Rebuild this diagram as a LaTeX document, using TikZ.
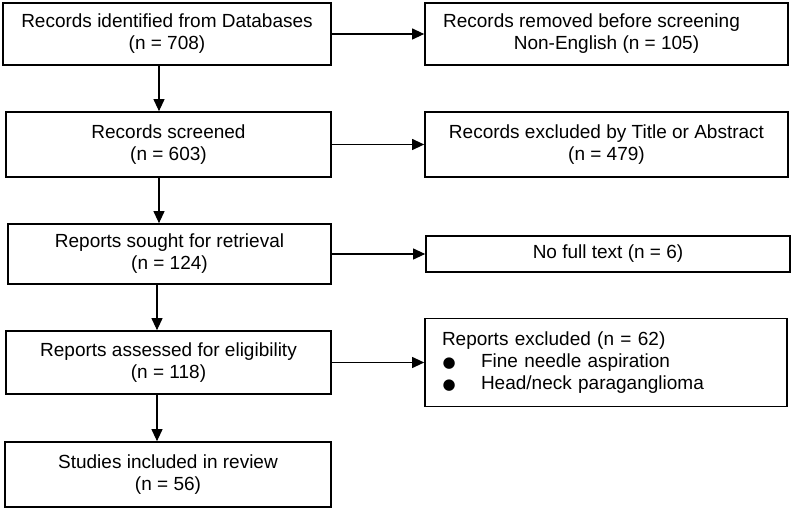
\documentclass[tikz,border=0pt]{standalone}
\usepackage{fontspec}
\setmainfont{Liberation Sans}
\newfontfamily\dotfont{DejaVu Sans}
\usetikzlibrary{arrows.meta}
\newcommand{\exdot}{\makebox[39pt][l]{\hspace{0.5pt}{\dotfont\fontsize{15}{22}\selectfont ●}}}
\begin{document}
\begin{tikzpicture}[x=1pt, y=-1pt, line width=1.1pt,
		box/.style={shape=rectangle, draw, line width=1.7pt, inner sep=0pt, align=center, font=\fontsize{19}{22}\selectfont},
		>={Triangle[length=12pt, width=11pt]}]
			\useasboundingbox (0,0) rectangle (793,510);

			% main column
			\node[box, minimum width=328pt, minimum height=62pt] (rid) at (167, 34){Records identified from Databases\\(n = 708)};
			\node[box, minimum width=325pt, minimum height=65pt] (rsc) at (168.5, 144.5){Records screened\\(n = 603)};
			\node[box, minimum width=323pt, minimum height=60pt] (rsr) at (169.5, 254){Reports sought for retrieval\\(n = 124)};
			\node[box, minimum width=325pt, minimum height=63pt] (rae) at (168.5, 362.5){Reports assessed for eligibility\\(n = 118)};
			\node[box, minimum width=326pt, minimum height=65pt] (sir) at (168, 474.5){Studies included in review\\(n = 56)};

			% exclusions
			\node[box, minimum width=363pt, minimum height=62pt] (rrm) at (606.5, 34){Records removed before screening\hspace*{30pt}\\Non-English (n = 105)};
			\node[box, minimum width=363pt, minimum height=65pt] (rxt) at (606.5, 144.5){Records excluded by Title or Abstract\\(n = 479)};
			\node[box, minimum width=364pt, minimum height=36pt] (nft) at (608, 254){No full text (n = 6)};
			\node[box, align=left, text width=328pt, inner xsep=17pt, minimum height=88pt] (rex) at (606, 362.5){Reports excluded (n = 62)\\\exdot Fine needle aspiration\\\exdot Head/neck paraganglioma};

			\draw[->] ([xshift=-8pt]rid.south) to ([xshift=-8pt]rid.south |- rsc.north);
			\draw[->] ([xshift=-9.5pt]rsc.south) to ([xshift=-9.5pt]rsc.south |- rsr.north);
			\draw[->] ([xshift=-12.5pt]rsr.south) to ([xshift=-12.5pt]rsr.south |- rae.north);
			\draw[->] ([xshift=-11.5pt]rae.south) to ([xshift=-11.5pt]rae.south |- sir.north);

			\draw[->] (rid) to (rrm);
			\draw[->] (rsc) to (rxt);
			\draw[->] (rsr) to (nft);
			\draw[->] (rae) to (rex);
		\end{tikzpicture}
\end{document}
